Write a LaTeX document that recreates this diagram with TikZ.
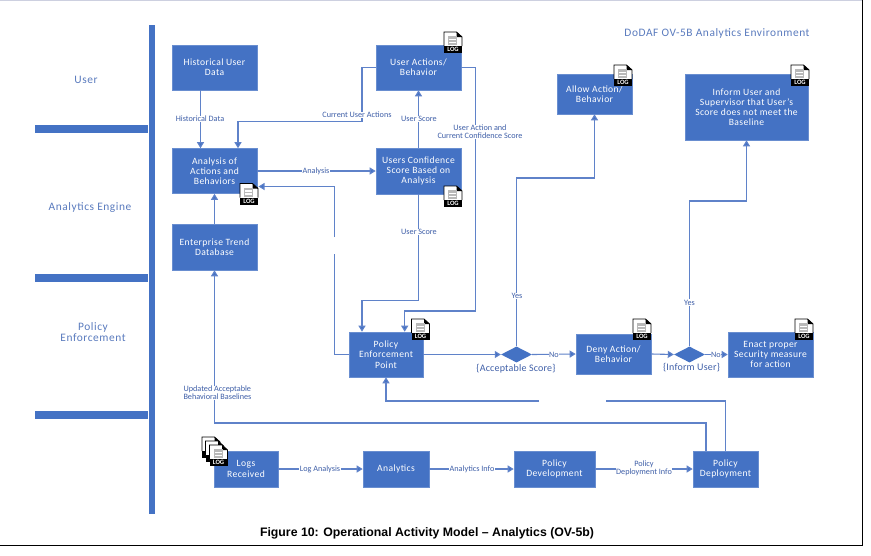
\documentclass[tikz,border=0pt]{standalone}
\usepackage{fontspec}
\setmainfont{Carlito}
\newfontfamily\capfont{Liberation Sans}
\usetikzlibrary{arrows.meta,calc,shapes.geometric}
\definecolor{boxblue}{HTML}{4472C4}
\definecolor{linkblue}{HTML}{5F82C9}
\definecolor{labelblue}{HTML}{3F5FA8}
\definecolor{lanetext}{HTML}{5A7BBE}
\definecolor{edgegrey}{HTML}{CDD0E0}
\tikzset{
  boxn/.style={draw=boxblue!80,fill=boxblue,line width=0.6pt,text=white,align=center,inner sep=0pt,
    font=\fontsize{9.6}{10.2}\selectfont\addfontfeatures{LetterSpace=4}},
  link/.style={draw=linkblue,line width=1.1pt,-{Triangle[length=6pt,width=7pt,fill=boxblue]}},
  plainlink/.style={draw=linkblue,line width=1.1pt},
  lbl/.style={fill=white,text=labelblue,inner sep=0.6pt,align=center,font=\fontsize{8.2}{7.8}\selectfont},
  lbltext/.style={text=labelblue,inner sep=0pt,align=center,font=\fontsize{10}{10.5}\selectfont\addfontfeatures{LetterSpace=2}},
  lane/.style={text=lanetext,inner sep=0pt,align=center,font=\fontsize{11.4}{11.8}\selectfont\addfontfeatures{LetterSpace=5}},
  decision/.style={diamond,aspect=1.9,fill=boxblue,inner sep=0pt,minimum width=31pt,minimum height=16pt},
  logback/.pic={
    \draw[black,line width=0.9pt,fill=white] (0,14) -- (0,0) -- (12.5,0) -- (18,5) -- (18,14);
    \fill[black] (12.5,0) -- (18,5) -- (12.5,5) -- cycle;
    \fill[gray!55] (4,4) rectangle (13,13);
    \fill[white] (5,6.5) rectangle (12,8);
    \fill[white] (5,9.5) rectangle (12,11);
    \fill[black] (0,14) rectangle (18,21);
  },
  logicon/.pic={
    \pic {logback};
    \node[text=white,inner sep=0pt,font=\fontsize{6.6}{7}\selectfont\bfseries] (-tag) at (9,17.6) {LOG};
  }
}
\begin{document}
\begin{tikzpicture}[x=1pt,y=-1pt]
\useasboundingbox (0,0) rectangle (871,555);
\fill[white] (0,0) rectangle (871,555);
% frame
\fill[edgegrey] (0,0) rectangle (862,1);
\fill[black] (861.6,0) rectangle (862.8,545.6);
\fill[black] (0,544.6) rectangle (862.8,545.8);
% swim lanes
\fill[boxblue] (149,25) rectangle (155,514);
\fill[boxblue] (35,125) rectangle (148,133);
\fill[boxblue] (35,274) rectangle (148,281.5);
\fill[boxblue] (35,411) rectangle (148,419);
\node[lane] (laneuser) at (86,80) {User};
\node[lane] (laneana) at (90,208) {Analytics Engine};
\node[lane] (lanepol) at (93,332) {Policy\\Enforcement};
\node[lane] (title) at (717,33) {DoDAF OV-5B Analytics Environment};
% boxes
\node[boxn,minimum width=85pt,minimum height=45pt] (hist) at (214.5,67.5) {Historical User\\Data};
\node[boxn,minimum width=85pt,minimum height=45pt] (ana) at (214.5,171) {Analysis of\\Actions and\\Behaviors};
\node[boxn,minimum width=85pt,minimum height=46pt] (ent) at (214.5,247) {Enterprise Trend\\Database};
\node[boxn,minimum width=85pt,minimum height=45pt] (ua) at (418.5,67.5) {User Actions/\\Behavior};
\node[boxn,minimum width=85pt,minimum height=46pt] (conf) at (418.5,171) {Users Confidence\\Score Based on\\Analysis};
\node[boxn,minimum width=75pt,minimum height=40pt] (allow) at (594.5,94) {Allow Action/\\Behavior};
\node[boxn,minimum width=123pt,minimum height=66pt] (inform) at (746.5,107) {Inform User and\\Supervisor that User's\\Score does not meet the\\Baseline};
\node[boxn,minimum width=74pt,minimum height=45pt] (pep) at (386,354.5) {Policy\\Enforcement\\Point};
\node[boxn,minimum width=75pt,minimum height=40pt] (deny) at (613.5,354) {Deny Action/\\Behavior};
\node[boxn,minimum width=85pt,minimum height=45pt] (enact) at (770.5,354.5) {Enact proper\\Security measure\\for action};
\node[boxn,minimum width=64pt,minimum height=36pt] (logs) at (246,469) {Logs\\Received};
\node[boxn,minimum width=66pt,minimum height=36pt] (anl) at (396,469) {Analytics};
\node[boxn,minimum width=81pt,minimum height=36pt] (dev) at (554.5,469) {Policy\\Development};
\node[boxn,minimum width=65pt,minimum height=36pt] (dep) at (725.5,469) {Policy\\Deployment};
\node[decision] (d1) at (516.5,354.5) {};
\node[decision] (d2) at (689.5,354.5) {};
% named bend and gap points
\coordinate (gaptop) at (334.5,237);
\coordinate (gapbot) at (334.5,254);
\coordinate (gapl) at (539,401);
\coordinate (gapr) at (606,401);
% connectors
\draw[link] ([xshift=-14pt]hist.south) -- ([xshift=-14pt]ana.north);
\draw[link] (ua.west) -| (362,121.5) -| ([xshift=23.5pt]ana.north);
\draw[link] (conf.north) -- (ua.south);
\draw[link] (ana.east) -- (conf.west);
\draw[link] (ent.north) -- (ana.south);
\draw[link] ([xshift=-19.5pt]dep.north) |- (300,423) -| (ent.south);
\draw[plainlink] (pep.west) -| (gapbot);
\draw[link] (gaptop) |- (258.5,186.5);
\draw[link] (conf.south) |- (362,300.7) -- ([xshift=-24pt]pep.north);
\draw[link] (ua.east) -| (475.7,311) -| ([xshift=18.7pt]pep.north);
\draw[link] (pep.east) -- (d1.west);
\draw[link] (d1.north) |- (594.5,178) -- (allow.south);
\draw[link] (d1.east) -- (deny.west);
\draw[link] (deny.east) -- (d2.west);
\draw[link] (d2.north) |- (746.5,201) -- (inform.south);
\draw[link] (d2.east) -- (enact.west);
\draw[plainlink] (dep.north) |- (gapr);
\draw[link] (gapl) -| (pep.south);
\draw[link] (logs.east) -- (anl.west);
\draw[link] (anl.east) -- (dev.west);
\draw[link] (dev.east) -- (dep.west);
% connector labels
\node[lbl] (l1) at (200,119) {Historical Data};
\node[lbl] (l2) at (357,115) {Current User Actions};
\node[lbl] (l3) at (419,119) {User Score};
\node[lbl] (l4) at (316,171) {Analysis};
\node[lbl] (l5) at (419,232) {User Score};
\node[lbl] (l6) at (480,132) {User Action and\\Current Confidence Score};
\node[lbl,align=left] (l7) at (217.5,393) {Updated Acceptable\\Behavioral Baselines};
\node[lbl] (l8) at (517,296) {Yes};
\node[lbl] (l9) at (554,354.5) {No};
\node[lbl] (l10) at (689.5,302.5) {Yes};
\node[lbl] (l11) at (716,354.5) {No};
\node[lbl] (l12) at (320,469) {Log Analysis};
\node[lbl] (l13) at (472,469) {Analytics Info};
\node[lbl] (l14) at (644,468.5) {Policy\\Deployment Info};
\node[lbltext] (t1) at (516,369) {\{Acceptable Score\}};
\node[lbltext] (t2) at (691.5,368) {\{Inform User\}};
% log icons
\pic (i1) at (444,32) {logicon};
\pic (i2) at (614,65) {logicon};
\pic (i3) at (791,65) {logicon};
\pic (i4) at (240,183.5) {logicon};
\pic (i5) at (444,186) {logicon};
\pic (i6) at (411.5,319) {logicon};
\pic (i7) at (633,319) {logicon};
\pic (i8) at (795,319) {logicon};
\pic (i9) at (202,437) {logback};
\pic (i10) at (205.5,441) {logback};
\pic (i11) at (209.5,445) {logicon};
% caption
\node[inner sep=0pt,font=\capfont\bfseries\fontsize{12.3}{14}\selectfont] (cap) at (427,533) {Figure 10: Operational Activity Model – Analytics (OV-5b)};
\end{tikzpicture}
\end{document}
